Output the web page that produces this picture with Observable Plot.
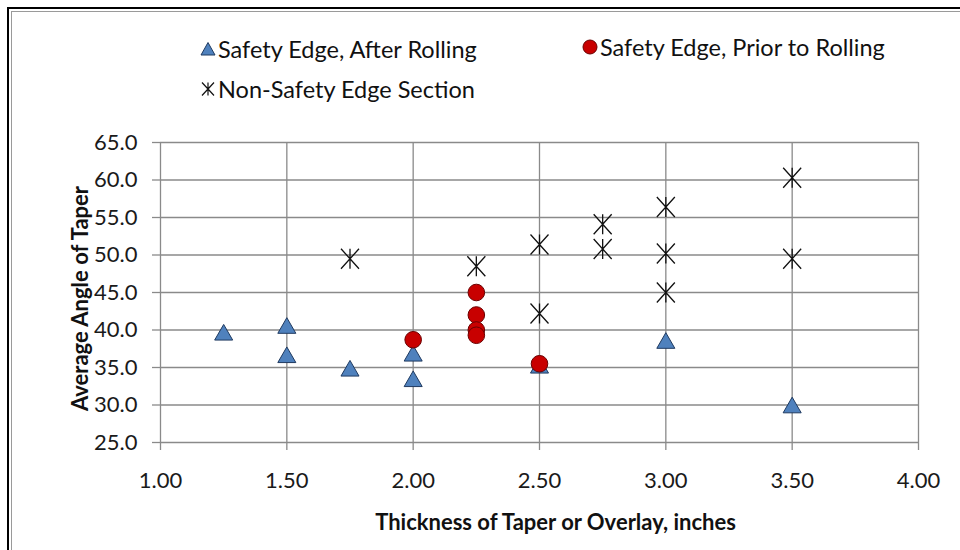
<!DOCTYPE html>
<html><head><meta charset="utf-8">
<script src="https://cdn.jsdelivr.net/npm/d3@7"></script>
<script src="https://cdn.jsdelivr.net/npm/@observablehq/plot@0.6"></script>
<style>
html,body{margin:0;padding:0;background:#fff;overflow:hidden;}
#wrap{position:relative;width:960px;height:550px;overflow:hidden;font-family:Lato,"Open Sans",sans-serif;}
#frame{position:absolute;left:7px;top:7px;width:1000px;height:600px;border-left:2px solid #000;border-top:2px solid #000;}
#frame2{position:absolute;left:11px;top:11px;width:1000px;height:600px;border-left:1px solid #9a9a9a;border-top:1px solid #9a9a9a;}
#legend{position:absolute;left:0;top:0;width:960px;height:120px;}
.item{position:absolute;height:30px;display:flex;align-items:center;font-size:23.5px;color:#111;white-space:nowrap;}
.item svg{margin-right:2px;}
#chart{position:absolute;left:0;top:120px;}
</style></head>
<body><div id="wrap"><div id="frame"></div><div id="frame2"></div><div id="legend"></div><div id="chart"></div></div>
<script>
// Series names
const seriesNames = ["Safety Edge, After Rolling", "Safety Edge, Prior to Rolling", "Non-Safety Edge Section"];

// Safety Edge, After Rolling (triangles)
const afterX = [1.25, 1.50, 1.50, 1.75, 2.00, 2.00, 2.50, 3.00, 3.50];
const afterY = [39.7, 40.6, 36.7, 34.9, 36.9, 33.5, 35.3, 38.6, 30.0];

// Safety Edge, Prior to Rolling (circles)
const priorX = [2.00, 2.25, 2.25, 2.25, 2.25, 2.50];
const priorY = [38.7, 45.0, 42.0, 40.0, 39.3, 35.5];

// Non-Safety Edge Section (stars)
const nonX = [1.75, 2.25, 2.50, 2.50, 2.75, 2.75, 3.00, 3.00, 3.00, 3.50, 3.50];
const nonY = [49.5, 48.5, 51.4, 42.2, 54.1, 50.8, 56.4, 50.2, 45.0, 60.3, 49.5];

// Axis ticks and titles
const xTicks = [1.00, 1.50, 2.00, 2.50, 3.00, 3.50, 4.00];
const yTicks = [25, 30, 35, 40, 45, 50, 55, 60, 65];
const xTitle = "Thickness of Taper or Overlay, inches";
const yTitle = "Average Angle of Taper";

const toRows = (xs, ys) => xs.map((x, i) => ({x, y: ys[i]}));
const after = toRows(afterX, afterY);
const prior = toRows(priorX, priorY);
const non = toRows(nonX, nonY);

const triSym = {draw(ctx, size) {
  const y = Math.sqrt(size / (3 * Math.sqrt(3)));
  ctx.moveTo(0, -1.5 * y);
  ctx.lineTo(Math.sqrt(3) * y, 1.5 * y);
  ctx.lineTo(-Math.sqrt(3) * y, 1.5 * y);
  ctx.closePath();
}};
const starSym = {draw(ctx, size) {
  const r = Math.sqrt(size / Math.PI);
  const w = r * 0.9, h = r;
  ctx.moveTo(0, -h); ctx.lineTo(0, h);
  ctx.moveTo(-w, -h); ctx.lineTo(w, h);
  ctx.moveTo(-w, h); ctx.lineTo(w, -h);
}};

const triFill = "#4F81BD", triStroke = "#1F3A60";
const redFill = "#C80000", redStroke = "#6A0000";
const gridColor = "#8a8a8a";

// Legend (HTML)
const legend = document.getElementById("legend");
const legendItems = [
  {name: seriesNames[0], left: 200, top: 34, svg: `<svg width="16" height="16" viewBox="-8 -8 16 16"><path d="M0,-6.5L7,6L-7,6Z" fill="${triFill}" stroke="${triStroke}" stroke-width="1"/></svg>`},
  {name: seriesNames[1], left: 582, top: 32, svg: `<svg width="16" height="16" viewBox="-8 -8 16 16"><circle r="7" fill="${redFill}" stroke="${redStroke}" stroke-width="1"/></svg>`},
  {name: seriesNames[2], left: 200, top: 74, svg: `<svg width="16" height="16" viewBox="-8 -8 16 16"><path d="M0,-6.5V6.5M-6,-6.5L6,6.5M-6,6.5L6,-6.5" fill="none" stroke="#111" stroke-width="1.2"/></svg>`}
];
for (const it of legendItems) {
  const d = document.createElement("div");
  d.className = "item";
  d.style.left = it.left + "px";
  d.style.top = it.top + "px";
  d.innerHTML = it.svg + `<span>${it.name}</span>`;
  legend.appendChild(d);
}

const chart = Plot.plot({
  width: 960,
  height: 430,
  marginTop: 22,
  marginBottom: 108,
  marginLeft: 160,
  marginRight: 42,
  style: {fontFamily: "Lato, 'Open Sans', sans-serif", fontSize: "22px", color: "#1a1a1a", background: "transparent", overflow: "visible"},
  x: {domain: [1, 4], label: null},
  y: {domain: [25, 65], label: null},
  marks: [
    Plot.gridX(xTicks, {stroke: gridColor, strokeOpacity: 1, strokeWidth: 1.3}),
    Plot.gridY(yTicks, {stroke: gridColor, strokeOpacity: 1, strokeWidth: 1.3}),
    Plot.axisX(xTicks, {tickFormat: d3.format(".2f"), tickSize: 8, tickPadding: 22, stroke: gridColor, strokeWidth: 1.3, fill: "#1a1a1a", label: null}),
    Plot.axisY(yTicks, {tickFormat: d3.format(".1f"), tickSize: 8, tickPadding: 15, stroke: gridColor, strokeWidth: 1.3, fill: "#1a1a1a", label: null}),
    Plot.dot(after, {x: "x", y: "y", symbol: triSym, r: 6.7, fill: triFill, stroke: triStroke, strokeWidth: 1}),
    Plot.dot(prior, {x: "x", y: "y", symbol: "circle", r: 8.3, fill: redFill, stroke: redStroke, strokeWidth: 1}),
    Plot.dot(non, {x: "x", y: "y", symbol: starSym, r: 10, fill: "none", stroke: "#111", strokeWidth: 1.3}),
    Plot.text([xTitle], {text: d => d, frameAnchor: "bottom", dy: 87, dx: 16, fontWeight: "bold", fontSize: 22, fill: "#111"}),
    Plot.text([yTitle], {text: d => d, frameAnchor: "left", textAnchor: "middle", rotate: -90, dx: -80, dy: 6, fontWeight: "bold", fontSize: 22, fill: "#111"})
  ]
});
document.getElementById("chart").appendChild(chart);
</script>
</body></html>
